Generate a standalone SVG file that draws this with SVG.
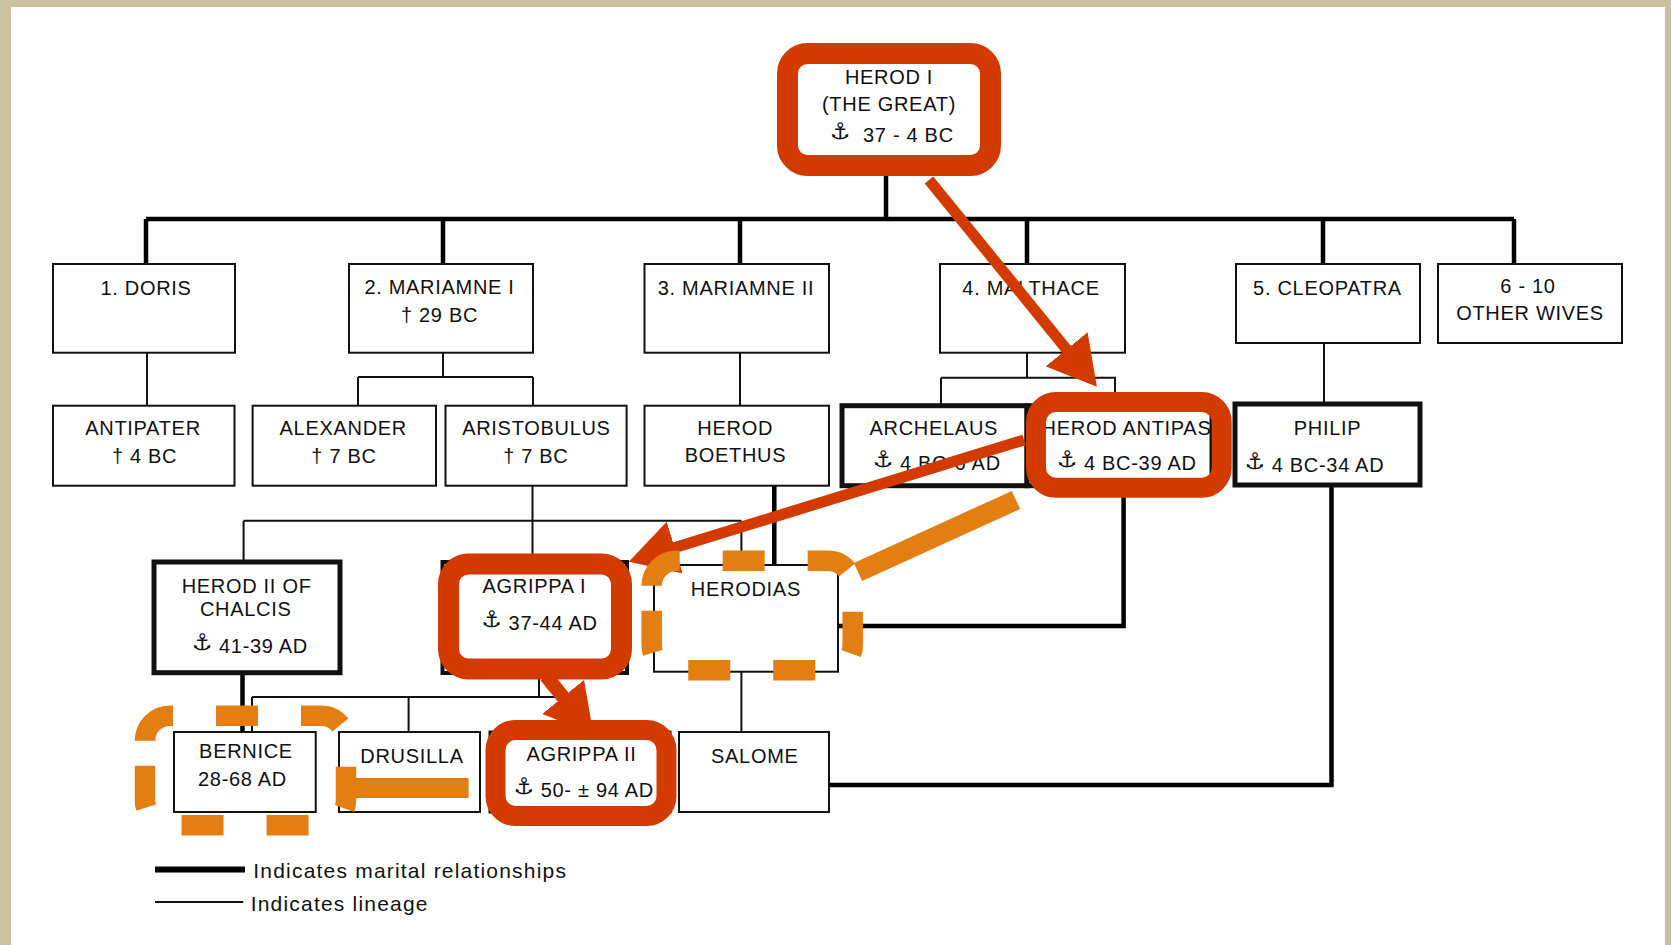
<svg xmlns="http://www.w3.org/2000/svg" width="1671" height="945" viewBox="0 0 1671 945">
<style>
.box{fill:#fff;stroke:#111;stroke-width:2}
.thk{stroke-width:5}
.t{font-family:"Liberation Sans",Arial,sans-serif;font-size:20px;letter-spacing:0.7px;fill:#111;text-anchor:middle}
.ts{text-anchor:start}
.sym{font-family:"DejaVu Sans",sans-serif;font-size:23px;letter-spacing:0}
.m{fill:none;stroke:#000;stroke-width:4.5}
.l{fill:none;stroke:#111;stroke-width:2}
.hl{fill:none;stroke:#D33A00;stroke-width:21}
.arr{fill:none;stroke:#D33A00;stroke-width:11;marker-end:url(#ah)}
.od{fill:none;stroke:#E37E12;stroke-width:20.5;stroke-dasharray:42 43}
.ob{fill:none;stroke:#E37E12;stroke-width:20}
.lg{font-family:"Liberation Sans",Arial,sans-serif;font-size:21px;letter-spacing:1.2px;fill:#111}
</style>
<defs>
<marker id="ah" markerUnits="userSpaceOnUse" viewBox="0 0 48 54" refX="3" refY="27" markerWidth="48" markerHeight="54" orient="auto"><path d="M0,0 L48,27 L0,54 Z" fill="#D33A00"/></marker>
<path id="dashbox" d="M0,25 A25,25 0 0 1 25,0 H176 A25,25 0 0 1 201,25 V84.5 A25,25 0 0 1 176,109.5 H25 A25,25 0 0 1 0,84.5 Z"/>
</defs>
<rect x="0" y="0" width="1671" height="945" fill="#fff"/>
<rect x="0" y="0" width="1671" height="7" fill="#C9C1A0"/>
<rect x="0" y="0" width="11" height="945" fill="#C9C1A0"/>
<rect x="1665" y="0" width="6" height="945" fill="#C9C1A0"/>

<g id="connectors">
<path class="m" d="M146,219 H1514 M886,176 V219 M146,219 V264 M443,219 V264 M740,219 V264 M1027,219 V264 M1323,219 V264 M1514,219 V264"/>
<path class="m" d="M774.3,485.7 V565 M1123.6,485 V626 H838 M1331.5,485 V785 H829 M242.5,672.7 V732"/>
<path class="l" d="M147,352.7 V405.7 M443,352.7 V377 M358,377 H533 M358,377 V405.7 M533,377 V405.7 M740,352.7 V405.7 M1027,352.7 V377.7 M941,377.7 H1115 V405 M941,377.7 V405 M1324,343 V404"/>
<path class="l" d="M532.5,485.7 V520.7 M243.6,520.7 H741.4 M243.6,520.7 V562 M532.5,520.7 V562 M741.4,520.7 V565 M539,673 V697 M252,697 H580 M252,697 V732 M408.6,697 V732 M580,697 V732 M741.4,671.7 V732"/>
</g>

<g id="n-herod1"><rect x="788" y="54" width="202" height="111" fill="#fff"/>
<text class="t" x="889" y="83.5">HEROD I</text>
<text class="t" x="889" y="110.5">(THE GREAT)</text>
<text class="t ts" x="830" y="139"><tspan class="sym">⚓︎</tspan><tspan x="863" y="142">37 - 4 BC</tspan></text></g>

<g id="n-doris"><rect class="box" x="53" y="264" width="182" height="88.7"/><text class="t" x="146" y="295">1. DORIS</text></g>
<g id="n-mariamne1"><rect class="box" x="349" y="264" width="184" height="88.7"/><text class="t" x="439.5" y="293.5">2. MARIAMNE I</text><text class="t" x="439.5" y="321.5">† 29 BC</text></g>
<g id="n-mariamne2"><rect class="box" x="644.5" y="264" width="184.5" height="88.7"/><text class="t" x="736" y="295">3. MARIAMNE II</text></g>
<g id="n-malthace"><rect class="box" x="940" y="264" width="185" height="88.7"/><text class="t" x="1031" y="295">4. MALTHACE</text></g>
<g id="n-cleopatra"><rect class="box" x="1236" y="264" width="184" height="79"/><text class="t" x="1327.5" y="295">5. CLEOPATRA</text></g>
<g id="n-otherwives"><rect class="box" x="1438" y="264" width="184" height="79"/><text class="t" x="1528" y="293.3">6 - 10</text><text class="t" x="1530" y="320">OTHER WIVES</text></g>

<g id="n-antipater"><rect class="box" x="53" y="405.7" width="181.5" height="80"/><text class="t" x="143" y="435">ANTIPATER</text><text class="t" x="144.6" y="462.7">† 4 BC</text></g>
<g id="n-alexander"><rect class="box" x="252.6" y="405.7" width="183.4" height="80"/><text class="t" x="343.3" y="435">ALEXANDER</text><text class="t" x="344" y="462.7">† 7 BC</text></g>
<g id="n-aristobulus"><rect class="box" x="445.5" y="405.7" width="181.1" height="80"/><text class="t" x="536.4" y="435">ARISTOBULUS</text><text class="t" x="535.8" y="462.7">† 7 BC</text></g>
<g id="n-herodboethus"><rect class="box" x="644.5" y="405.7" width="184.5" height="80"/><text class="t" x="735.2" y="435">HEROD</text><text class="t" x="735.5" y="461.7">BOETHUS</text></g>
<g id="n-archelaus"><rect class="box thk" x="842" y="405.7" width="185" height="80"/><text class="t" x="933.8" y="435">ARCHELAUS</text><text class="t ts" x="873" y="467"><tspan class="sym">⚓︎</tspan><tspan x="900" y="470">4 BC-6 AD</tspan></text></g>
<g id="n-herodantipas"><rect class="box thk" x="1027" y="405.7" width="185" height="80"/><text class="t" x="1126.5" y="435">HEROD ANTIPAS</text><text class="t ts" x="1057" y="467"><tspan class="sym">⚓︎</tspan><tspan x="1084" y="470">4 BC-39 AD</tspan></text></g>
<g id="n-philip"><rect class="box thk" x="1235" y="404" width="185" height="81"/><text class="t" x="1327.5" y="435">PHILIP</text><text class="t ts" x="1244.7" y="468.5"><tspan class="sym">⚓︎</tspan><tspan x="1271.7" y="471.5">4 BC-34 AD</tspan></text></g>

<g id="n-herod2"><rect class="box thk" x="154" y="562" width="186" height="110.7"/><text class="t" x="246.6" y="593.3">HEROD II OF</text><text class="t" x="245.7" y="616">CHALCIS</text><text class="t ts" x="192" y="650.3"><tspan class="sym">⚓︎</tspan><tspan x="219" y="653.3">41-39 AD</tspan></text></g>
<g id="n-agrippa1"><rect class="box" style="stroke-width:4" x="442.5" y="562" width="184.5" height="111"/><text class="t" x="534.4" y="593.3">AGRIPPA I</text><text class="t ts" x="481.6" y="627"><tspan class="sym">⚓︎</tspan><tspan x="508.6" y="630">37-44 AD</tspan></text></g>
<g id="n-herodias"><rect class="box" x="654" y="565" width="184" height="106.7"/><text class="t" x="745.9" y="596">HERODIAS</text></g>

<g id="n-bernice"><rect class="box" x="174" y="732" width="141.7" height="80"/><text class="t" x="246" y="758.3">BERNICE</text><text class="t" x="242.5" y="786">28-68 AD</text></g>
<g id="n-drusilla"><rect class="box" x="339" y="732" width="141" height="80"/><text class="t" x="412" y="763.3">DRUSILLA</text></g>
<g id="n-agrippa2"><rect class="box" style="stroke-width:3" x="490" y="732" width="180" height="80"/><text class="t" x="581.4" y="760.7">AGRIPPA II</text><text class="t ts" x="513.7" y="793.7"><tspan class="sym">⚓︎</tspan><tspan x="540.7" y="796.7">50- ± 94 AD</tspan></text></g>
<g id="n-salome"><rect class="box" x="679" y="732" width="150" height="80"/><text class="t" x="754.8" y="763.3">SALOME</text></g>

<g id="highlights">
<rect class="hl" x="787.5" y="53.5" width="203" height="112" rx="20"/>
<rect class="hl" x="1036" y="402" width="185.7" height="85.7" rx="20" style="stroke-width:20"/>
<rect class="hl" x="448.5" y="564" width="173" height="105" rx="20"/>
<rect class="hl" x="495.5" y="730" width="171" height="86" rx="20" style="stroke-width:20"/>
</g>
<g id="red-arrows">
<path class="arr" d="M929,180 L1068.5,351.7"/>
<path class="arr" d="M1024,440 L671.8,548.4"/>
<path class="arr" style="stroke-width:14" d="M546,676 L565,699.3"/>
</g>
<g id="orange-marks">
<use href="#dashbox" class="od" transform="translate(651.7,560.8)"/>
<use href="#dashbox" class="od" transform="translate(145,715.7)"/>
<path class="ob" d="M1016,500 L858,572"/>
<path class="ob" d="M355,788 H468.6"/>
</g>

<g id="legend">
<path d="M155,869.5 H245" stroke="#000" stroke-width="6"/>
<text class="lg" x="253.3" y="877.7">Indicates marital relationships</text>
<path d="M155,902 H243.3" stroke="#111" stroke-width="2"/>
<text class="lg" x="250.7" y="911">Indicates lineage</text>
</g>
</svg>
